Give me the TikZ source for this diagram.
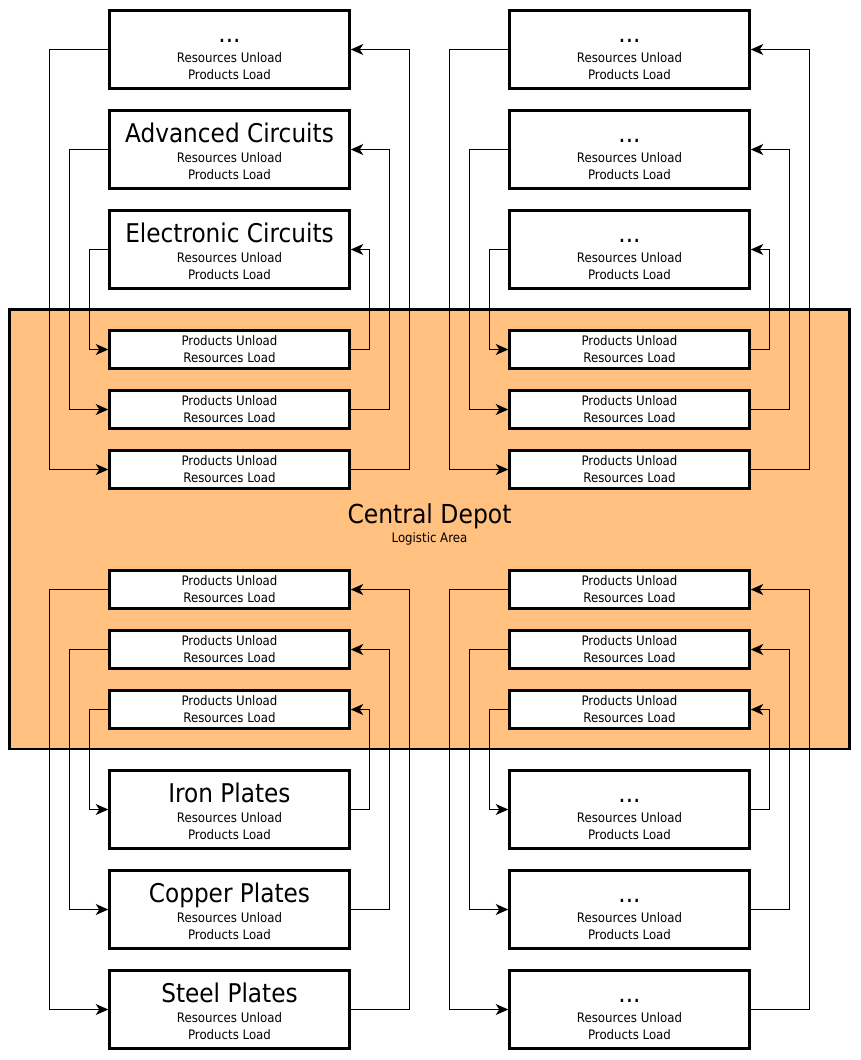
\documentclass[tikz,border=0pt]{standalone}
\usepackage{fontspec}
\setmainfont{DejaVu Sans Condensed}
\usetikzlibrary{arrows.meta}
\definecolor{depotfill}{RGB}{255,192,128}
\newcommand{\titlesize}{\fontsize{25.8}{28}\selectfont}
\newcommand{\smallsize}{\fontsize{13.1}{17}\selectfont}
\newcommand{\stationtitle}[1]{{\titlesize\rule{0pt}{23pt}#1}}

\begin{document}
\begin{tikzpicture}[
    x=1pt, y=-1pt,
    station/.style={draw, line width=2.5pt, fill=white, minimum width=240pt,
      minimum height=78pt, align=center, font=\smallsize, inner sep=0pt},
    dock/.style={station, minimum height=38pt},
    link/.style={line width=1pt, -{Stealth[length=12.5pt, width=11pt, inset=3.5pt]}},
  ]
  \useasboundingbox (0,0) rectangle (860,1060);

  % logistic area
  \node[draw, line width=2.5pt, fill=depotfill, minimum width=840pt,
    minimum height=439.5pt, inner sep=0pt] (depot) at (429.5,529.25) {};
  \node[align=center, font=\smallsize] (depotname) at (429.5,524.4)
    {{\fontsize{26.1}{28}\selectfont Central Depot}\\[2pt]Logistic Area};

  % stations, left column
  \node[station] (L1) at (229.5,49.5) {\stationtitle{...}\\[3pt]Resources Unload\\Products Load};
  \node[station] (L2) at (229.5,149.5) {\stationtitle{Advanced Circuits}\\[3pt]Resources Unload\\Products Load};
  \node[station] (L3) at (229.5,249.5) {\stationtitle{Electronic Circuits}\\[3pt]Resources Unload\\Products Load};
  \node[station] (L4) at (229.5,809.5) {\stationtitle{Iron Plates}\\[3pt]Resources Unload\\Products Load};
  \node[station] (L5) at (229.5,909.5) {\stationtitle{Copper Plates}\\[3pt]Resources Unload\\Products Load};
  \node[station] (L6) at (229.5,1009.5) {\stationtitle{Steel Plates}\\[3pt]Resources Unload\\Products Load};

  % stations, right column
  \foreach \i/\y in {1/49.5, 2/149.5, 3/249.5, 4/809.5, 5/909.5, 6/1009.5}
    \node[station] (R\i) at (629.5,\y) {\stationtitle{...}\\[3pt]Resources Unload\\Products Load};

  % docks in the depot
  \foreach \i/\y in {1/349.5, 2/409.5, 3/469.5, 4/589.5, 5/649.5, 6/709.5} {
    \node[dock] (LD\i) at (229.5,\y) {Products Unload\\Resources Load};
    \node[dock] (RD\i) at (629.5,\y) {Products Unload\\Resources Load};
  }

  % trains there and back
  \foreach \s in {L, R}
    \foreach \a/\b/\o in {1/D3/58.75, 2/D2/38.75, 3/D1/18.75, D4/6/58.75, D5/5/38.75, D6/4/18.75} {
      \draw[link] (\s\a.west) -- ++(-\o,0) |- (\s\b.west);
      \draw[link] (\s\b.east) -- ++(\o,0) |- (\s\a.east);
    }

\end{tikzpicture}
\end{document}
